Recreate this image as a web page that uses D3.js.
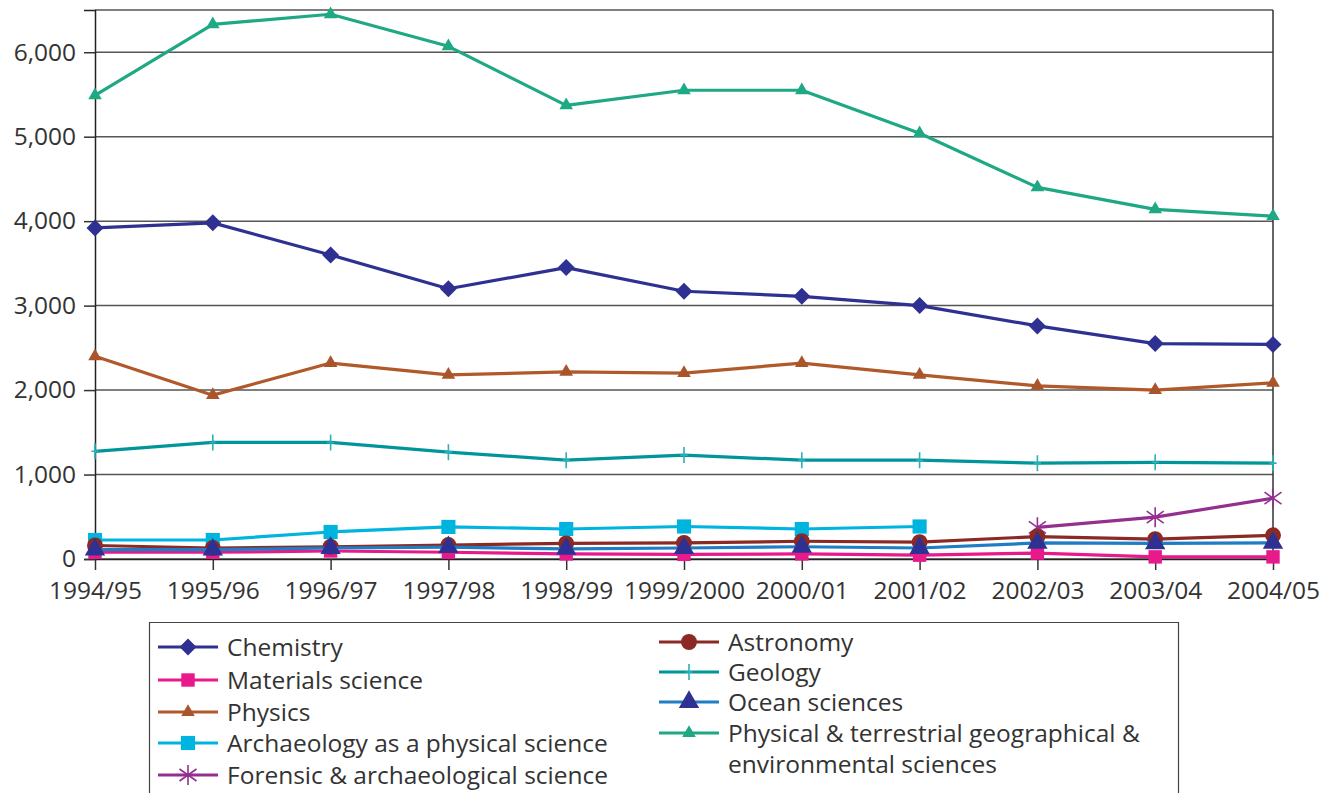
<!DOCTYPE html>
<html>
<head>
<meta charset="utf-8">
<script src="https://cdn.jsdelivr.net/npm/d3@7"></script>
<style>
  body { margin: 0; background: #fff; }
  text { font-family: "Open Sans", "Noto Sans", sans-serif; fill: #333; }
</style>
</head>
<body>
<script>
// categories (academic years)
var years = ["1994/95", "1995/96", "1996/97", "1997/98", "1998/99", "1999/2000",
             "2000/01", "2001/02", "2002/03", "2003/04", "2004/05"];

// y tick values
var yTicks = [0, 1000, 2000, 3000, 4000, 5000, 6000];

// series values
var chemistry   = [3920, 3980, 3600, 3200, 3450, 3170, 3110, 3000, 2760, 2550, 2540];
var materials   = [80, 80, 95, 80, 60, 55, 60, 45, 70, 25, 25];
var physics     = [2400, 1940, 2320, 2180, 2215, 2200, 2320, 2180, 2050, 2000, 2085];
var archaeology = [225, 225, 320, 380, 355, 385, 355, 385, null, null, null];
var forensic    = [null, null, null, null, null, null, null, null, 375, 495, 720];
var astronomy   = [160, 130, 145, 165, 185, 190, 210, 200, 265, 235, 280];
var geology     = [1275, 1380, 1380, 1265, 1170, 1230, 1170, 1170, 1135, 1145, 1135];
var ocean       = [110, 110, 130, 140, 120, 130, 145, 130, 190, 185, 190];
var physical    = [5490, 6330, 6450, 6070, 5370, 5550, 5550, 5040, 4400, 4140, 4060];

var series = [
  {name: "Chemistry", values: chemistry, color: "#2e3192", mcolor: "#2e3192", marker: "diamond", size: 8.5},
  {name: "Materials science", values: materials, color: "#e8198b", mcolor: "#e8198b", marker: "square", size: 180},
  {name: "Physics", values: physics, color: "#b0592a", mcolor: "#a9542a", marker: "triangle", size: 80},
  {name: "Archaeology as a physical science", values: archaeology, color: "#00b4e0", mcolor: "#00b4e0", marker: "square", size: 200},
  {name: "Forensic & archaeological science", values: forensic, color: "#93308f", mcolor: "#93308f", marker: "asterisk", size: 10},
  {name: "Astronomy", values: astronomy, color: "#8b2a25", mcolor: "#8b2a25", marker: "circle", size: 200},
  {name: "Geology", values: geology, color: "#00959a", mcolor: "#2ab0b8", marker: "plus", size: 8},
  {name: "Ocean sciences", values: ocean, color: "#1f7dc3", mcolor: "#2e3192", marker: "triangle", size: 180},
  {name: "Physical & terrestrial geographical & environmental sciences", values: physical, color: "#1ea883", mcolor: "#1ea883", marker: "triangle", size: 80}
];

var W = 1331, H = 793;
var margin = {top: 10, left: 95, right: 58, bottom: 234};
var width = W - margin.left - margin.right,
    height = H - margin.top - margin.bottom;
var fontSize = "24.5px";

var svg = d3.select("body").append("svg")
    .attr("width", W)
    .attr("height", H);

var g = svg.append("g")
    .attr("transform", "translate(" + margin.left + "," + margin.top + ")");

var x = d3.scalePoint().domain(years).range([0, width]);
var y = d3.scaleLinear().domain([0, 6500]).range([height, 0]);

// grid lines
g.selectAll(".grid")
  .data(yTicks.concat([6500]))
  .enter().append("line")
    .attr("x1", 0).attr("x2", width)
    .attr("y1", function(d) { return y(d); })
    .attr("y2", function(d) { return y(d); })
    .attr("stroke", "#555")
    .attr("stroke-width", 1.5);

// right border
g.append("line")
    .attr("x1", width).attr("x2", width)
    .attr("y1", 0).attr("y2", height)
    .attr("stroke", "#333").attr("stroke-width", 1.5);

// y axis
var yAxis = g.append("g")
    .call(d3.axisLeft(y).tickValues(yTicks).tickFormat(d3.format(",")).tickSize(11).tickPadding(8));
yAxis.select(".domain").attr("stroke", "#222").attr("stroke-width", 1.5);
yAxis.selectAll(".tick line").attr("stroke", "#333").attr("stroke-width", 1.5);
yAxis.selectAll("text").style("font-size", fontSize).attr("fill", "#333");

// x axis
var xAxis = g.append("g")
    .attr("transform", "translate(0," + height + ")")
    .call(d3.axisBottom(x).tickSize(11).tickPadding(12).tickSizeOuter(0));
xAxis.select(".domain").attr("stroke", "#222").attr("stroke-width", 1.5);
xAxis.selectAll(".tick line").attr("stroke", "#333").attr("stroke-width", 1.5);
xAxis.selectAll("text").style("font-size", fontSize).attr("fill", "#333");

// marker shapes
function markerPath(type, size) {
  if (type === "plus") {
    return "M0," + (-size) + "L0," + size + "M" + (-size * 0.45) + ",0L" + (size * 0.45) + ",0";
  }
  if (type === "asterisk") {
    var a = size * 0.85, b = size * 0.6;
    return "M0," + (-size) + "L0," + size +
           "M" + (-a) + "," + (-b) + "L" + a + "," + b +
           "M" + (-a) + "," + b + "L" + a + "," + (-b);
  }
  if (type === "diamond") {
    return "M0," + (-size) + "L" + size + ",0L0," + size + "L" + (-size) + ",0Z";
  }
  var sym = {square: d3.symbolSquare, triangle: d3.symbolTriangle, circle: d3.symbolCircle}[type];
  return d3.symbol().type(sym).size(size)();
}

function drawMarker(sel, s) {
  var stroked = s.marker === "plus" || s.marker === "asterisk";
  sel.append("path")
    .attr("d", markerPath(s.marker, s.size))
    .attr("fill", stroked ? "none" : s.mcolor)
    .attr("stroke", stroked ? s.mcolor : "none")
    .attr("stroke-width", stroked ? 1.6 : 0);
}

var line = d3.line()
    .defined(function(d) { return d != null; })
    .x(function(d, i) { return x(years[i]); })
    .y(function(d) { return y(d); });

series.forEach(function(s) {
  g.append("path")
    .datum(s.values)
    .attr("fill", "none")
    .attr("stroke", s.color)
    .attr("stroke-width", 3.2)
    .attr("stroke-linejoin", "round")
    .attr("d", line);

  s.values.forEach(function(v, i) {
    if (v == null) return;
    var m = g.append("g")
      .attr("transform", "translate(" + x(years[i]) + "," + y(v) + ")");
    drawMarker(m, s);
  });
});

// legend
var legend = svg.append("g");
legend.append("path")
    .attr("d", "M149.5,793V622.5H1178.5V793")
    .attr("fill", "none")
    .attr("stroke", "#444")
    .attr("stroke-width", 1.2);

var legendPos = [
  {x: 158, y: 647}, {x: 158, y: 680}, {x: 158, y: 712}, {x: 158, y: 743}, {x: 158, y: 775},
  {x: 659, y: 642}, {x: 659, y: 672}, {x: 659, y: 702}, {x: 659, y: 733}
];

series.forEach(function(s, i) {
  var p = legendPos[i];
  var item = legend.append("g").attr("transform", "translate(" + p.x + "," + p.y + ")");
  item.append("line")
    .attr("x1", 0).attr("x2", 60)
    .attr("stroke", s.color).attr("stroke-width", 3.2);
  var m = item.append("g").attr("transform", "translate(30,0)");
  drawMarker(m, s);
  var t = item.append("text")
    .attr("x", 69)
    .attr("dy", "0.35em")
    .style("font-size", fontSize);
  if (i === 8) {
    t.text("Physical & terrestrial geographical &");
    item.append("text")
      .attr("x", 69).attr("y", 31).attr("dy", "0.35em")
      .style("font-size", fontSize)
      .text("environmental sciences");
  } else {
    t.text(s.name);
  }
});
</script>
</body>
</html>
